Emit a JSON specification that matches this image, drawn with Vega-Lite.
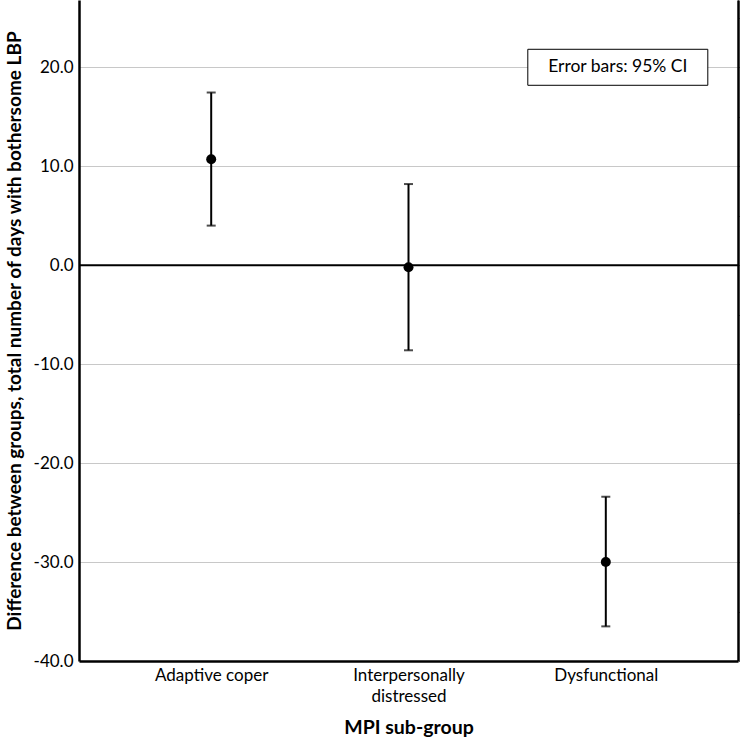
{
  "$schema": "https://vega.github.io/schema/vega-lite/v6.json",
  "width": 659,
  "height": 661,
  "autosize": {"type": "none"},
  "padding": {"left": 79, "top": 0, "right": 2, "bottom": 81},
  "background": "white",
  "config": {
    "view": {"stroke": null},
    "font": "Lato",
    "axis": {"labelFont": "Lato", "titleFont": "Lato", "labelColor": "#000", "titleColor": "#000"}
  },
  "datasets": {
    "groups": [
      {"group": "Adaptive coper", "mean": 10.7, "lower": 4.0, "upper": 17.45},
      {"group": "Interpersonally distressed", "mean": -0.2, "lower": -8.6, "upper": 8.2},
      {"group": "Dysfunctional", "mean": -30.0, "lower": -36.5, "upper": -23.4}
    ],
    "note": [{"group": "Dysfunctional", "value": 20, "label": "Error bars: 95% CI"}],
    "zero": [{"value": 0}]
  },
  "encoding": {
    "x": {
      "field": "group",
      "type": "nominal",
      "sort": null,
      "scale": {"type": "point", "padding": 0.67, "domain": ["Adaptive coper", "Interpersonally distressed", "Dysfunctional"]},
      "axis": {
        "title": "MPI sub-group",
        "titleFontSize": 19.5,
        "titleFontWeight": "bold",
        "titlePadding": 14,
        "labelFontSize": 17,
        "labelAngle": 0,
        "labelPadding": 6,
        "labelLineHeight": 21,
        "labelExpr": "datum.label == 'Interpersonally distressed' ? ['Interpersonally', 'distressed'] : datum.label",
        "ticks": false,
        "domainColor": "#000",
        "domainWidth": 2.5,
        "grid": false
      }
    }
  },
  "layer": [
    {
      "data": {"name": "groups"},
      "mark": {"type": "rule", "color": "#000", "strokeWidth": 2},
      "encoding": {
        "y": {
          "field": "lower",
          "type": "quantitative",
          "scale": {"domain": [-40, 26.8], "nice": false, "zero": false},
          "axis": {
            "title": "Difference between groups, total number of days with bothersome LBP",
            "titleFontSize": 19,
            "titleFontWeight": "bold",
            "titlePadding": 9,
            "values": [-40, -30, -20, -10, 0, 10, 20],
            "format": ".1f",
            "labelExpr": "replace(datum.label, '\u2212', '-')",
            "labelFontSize": 17,
            "labelPadding": 6,
            "ticks": false,
            "grid": true,
            "gridColor": "#c8c8c8",
            "gridWidth": 1,
            "domainColor": "#000",
            "domainWidth": 2.5
          }
        },
        "y2": {"field": "upper"}
      }
    },
    {
      "data": {"name": "zero"},
      "mark": {"type": "rule", "color": "#000", "strokeWidth": 2},
      "encoding": {
        "y": {"field": "value", "type": "quantitative"},
        "x": {"value": 0},
        "x2": {"value": 659}
      }
    },
    {
      "data": {"name": "groups"},
      "mark": {"type": "tick", "color": "#000", "thickness": 2, "size": 9, "orient": "horizontal"},
      "encoding": {"y": {"field": "upper", "type": "quantitative"}}
    },
    {
      "data": {"name": "groups"},
      "mark": {"type": "tick", "color": "#000", "thickness": 2, "size": 9, "orient": "horizontal"},
      "encoding": {"y": {"field": "lower", "type": "quantitative"}}
    },
    {
      "data": {"name": "groups"},
      "mark": {"type": "point", "filled": true, "color": "#000", "size": 100, "opacity": 1, "shape": "circle"},
      "encoding": {"y": {"field": "mean", "type": "quantitative"}}
    },
    {
      "data": {"name": "note"},
      "mark": {"type": "point", "shape": "M-1,-0.2L1,-0.2L1,0.2L-1,0.2Z", "size": 32400, "fill": "white", "stroke": "#000", "strokeWidth": 1, "filled": false, "opacity": 1, "fillOpacity": 1, "xOffset": 12},
      "encoding": {"y": {"field": "value", "type": "quantitative"}}
    },
    {
      "data": {"name": "note"},
      "mark": {"type": "text", "fontSize": 17.5, "color": "#000", "xOffset": 12, "align": "center", "baseline": "middle"},
      "encoding": {"y": {"field": "value", "type": "quantitative"}, "text": {"field": "label"}}
    },
    {
      "data": {"name": "zero"},
      "mark": {"type": "rule", "opacity": 0},
      "encoding": {
        "y": {
          "field": "value",
          "type": "quantitative",
          "axis": {"orient": "right", "title": null, "labels": false, "ticks": false, "grid": false, "domainColor": "#000", "domainWidth": 2.5}
        }
      }
    }
  ],
  "resolve": {"axis": {"y": "independent"}}
}
